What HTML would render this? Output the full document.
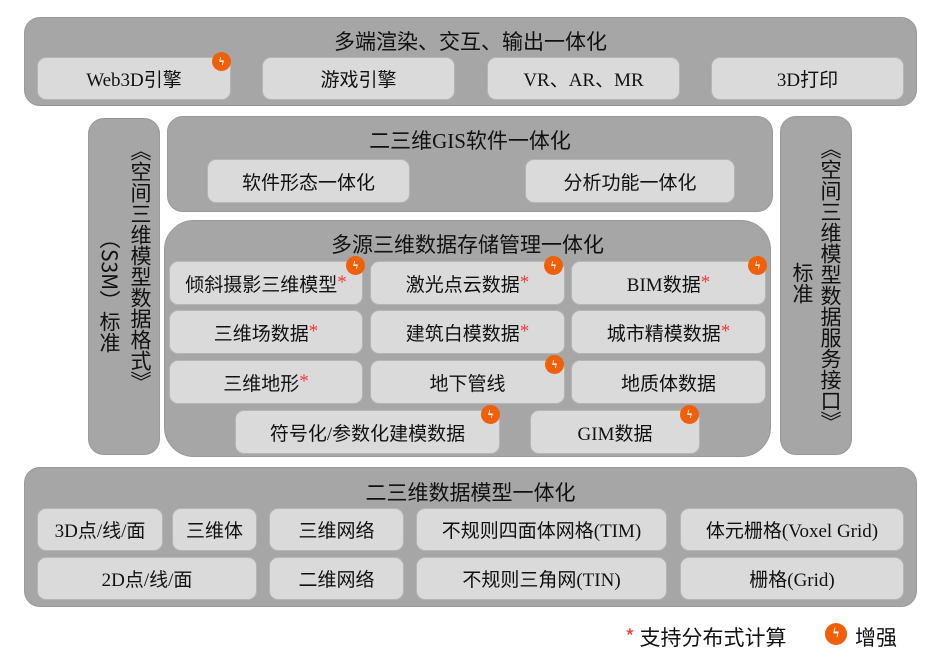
<!DOCTYPE html>
<html><head><meta charset="utf-8"><style>
body{margin:0;width:952px;height:655px;background:#fff;position:relative;overflow:hidden;font-family:"Liberation Serif","Noto Sans CJK SC",sans-serif;}
.p{position:absolute;background:#a6a6a6;border:1.5px solid #999;border-radius:16px;box-sizing:border-box;}
.t{position:absolute;left:0;right:0;text-align:center;font-size:21px;color:#111;}
.b{position:absolute;background:#dadada;border:1.5px solid #b5b5b5;border-radius:9px;box-sizing:border-box;display:flex;align-items:center;justify-content:center;font-size:19px;color:#111;}
.s{color:#f03c3c;}
.i{position:absolute;width:19px;height:19px;border-radius:50%;background:#f0600a;color:#fff;font-size:12px;line-height:19px;text-align:center;font-weight:bold;}
.v{position:absolute;writing-mode:vertical-rl;font-size:21px;color:#111;font-family:"Noto Sans CJK SC",sans-serif;}
</style></head><body>
<div class="p" style="left:24px;top:17px;width:893px;height:89px"></div>
<div class="t" style="top:26px;left:24px;width:893px">多端渲染、交互、输出一体化</div>
<div class="b" style="left:37px;top:57px;width:194px;height:43px">Web3D引擎</div>
<div class="b" style="left:262px;top:57px;width:193px;height:43px">游戏引擎</div>
<div class="b" style="left:487px;top:57px;width:193px;height:43px">VR、AR、MR</div>
<div class="b" style="left:711px;top:57px;width:193px;height:43px">3D打印</div>

<div class="p" style="left:88px;top:118px;width:72px;height:337px"></div>
<div class="v" style="left:126px;top:140px">《空间三维模型数据格式》</div>
<div class="v" style="left:95px;top:228px">（S3M）标准</div>
<div class="p" style="left:780px;top:116px;width:72px;height:339px"></div>
<div class="v" style="left:816px;top:138px">《空间三维模型数据服务接口》</div>
<div class="v" style="left:788px;top:262px">标准</div>

<div class="p" style="left:167px;top:116px;width:606px;height:96px"></div>
<div class="t" style="top:125px;left:167px;width:606px">二三维GIS软件一体化</div>
<div class="b" style="left:207px;top:159px;width:203px;height:44px">软件形态一体化</div>
<div class="b" style="left:525px;top:159px;width:210px;height:44px">分析功能一体化</div>

<div class="p" style="left:164px;top:220px;width:607px;height:237px;border-radius:30px"></div>
<div class="t" style="top:229px;left:164px;width:607px">多源三维数据存储管理一体化</div>
<div class="b" style="left:169px;top:261px;width:194px;height:44px">倾斜摄影三维模型<span class="s">*</span></div>
<div class="b" style="left:370px;top:261px;width:195px;height:44px">激光点云数据<span class="s">*</span></div>
<div class="b" style="left:571px;top:261px;width:195px;height:44px">BIM数据<span class="s">*</span></div>
<div class="b" style="left:169px;top:310px;width:194px;height:44px">三维场数据<span class="s">*</span></div>
<div class="b" style="left:370px;top:310px;width:195px;height:44px">建筑白模数据<span class="s">*</span></div>
<div class="b" style="left:571px;top:310px;width:195px;height:44px">城市精模数据<span class="s">*</span></div>
<div class="b" style="left:169px;top:360px;width:194px;height:44px">三维地形<span class="s">*</span></div>
<div class="b" style="left:370px;top:360px;width:195px;height:44px">地下管线</div>
<div class="b" style="left:571px;top:360px;width:195px;height:44px">地质体数据</div>
<div class="b" style="left:235px;top:410px;width:265px;height:44px">符号化/参数化建模数据</div>
<div class="b" style="left:530px;top:410px;width:170px;height:44px">GIM数据</div>

<div class="p" style="left:24px;top:467px;width:893px;height:140px"></div>
<div class="t" style="top:477px;left:24px;width:893px">二三维数据模型一体化</div>
<div class="b" style="left:37px;top:508px;width:126px;height:43px">3D点/线/面</div>
<div class="b" style="left:172px;top:508px;width:85px;height:43px">三维体</div>
<div class="b" style="left:269px;top:508px;width:135px;height:43px">三维网络</div>
<div class="b" style="left:416px;top:508px;width:251px;height:43px">不规则四面体网格(TIM)</div>
<div class="b" style="left:680px;top:508px;width:224px;height:43px">体元栅格(Voxel Grid)</div>
<div class="b" style="left:37px;top:557px;width:220px;height:43px">2D点/线/面</div>
<div class="b" style="left:269px;top:557px;width:135px;height:43px">二维网络</div>
<div class="b" style="left:416px;top:557px;width:251px;height:43px">不规则三角网(TIN)</div>
<div class="b" style="left:680px;top:557px;width:224px;height:43px">栅格(Grid)</div>

<div class="i" style="left:212px;top:52px">ϟ</div>
<div class="i" style="left:346px;top:256px">ϟ</div>
<div class="i" style="left:544px;top:256px">ϟ</div>
<div class="i" style="left:748px;top:256px">ϟ</div>
<div class="i" style="left:545px;top:355px">ϟ</div>
<div class="i" style="left:481px;top:405px">ϟ</div>
<div class="i" style="left:680px;top:405px">ϟ</div>

<div style="position:absolute;left:625px;top:622px;font-size:21px;color:#111;font-family:'Noto Sans CJK SC',sans-serif"><span class="s">*</span> 支持分布式计算</div>
<div class="i" style="left:825px;top:623px;width:22px;height:22px;line-height:22px;font-size:14px">ϟ</div>
<div style="position:absolute;left:855px;top:622px;font-size:21px;color:#111;font-family:'Noto Sans CJK SC',sans-serif">增强</div>
</body></html>
